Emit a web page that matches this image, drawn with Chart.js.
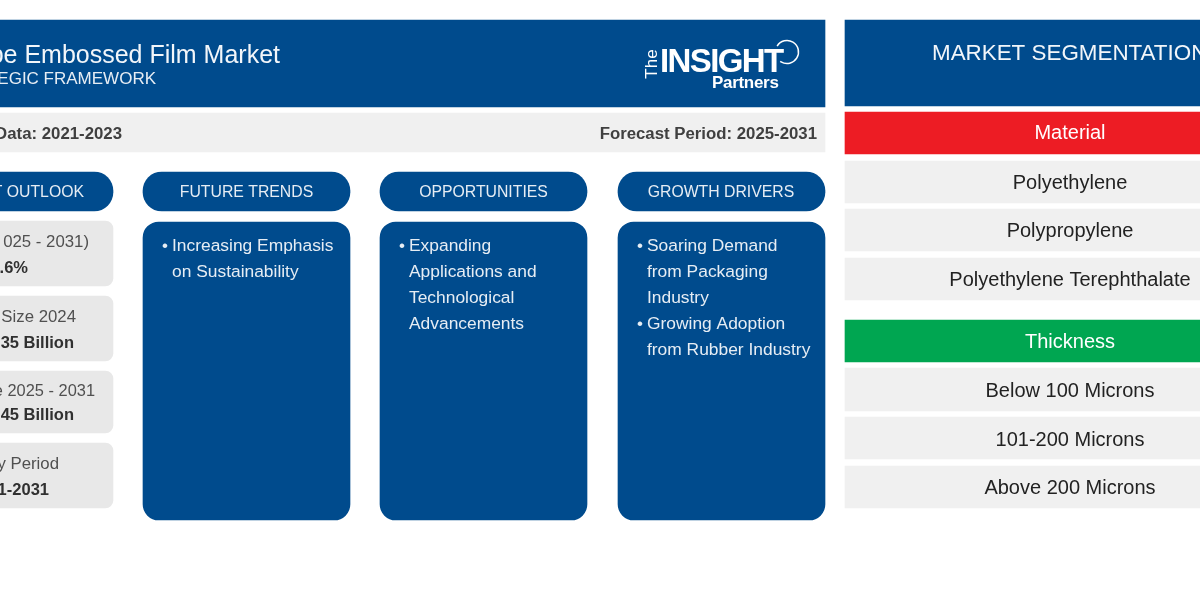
<!DOCTYPE html>
<html>
<head>
<meta charset="utf-8">
<title>Embossed Film Market</title>
<script src="https://cdn.jsdelivr.net/npm/chart.js@4"></script>
<style>
  html, body { margin: 0; padding: 0; background: #fff; overflow: hidden; }
  canvas { display: block; }
</style>
</head>
<body>
<canvas id="chart" width="1200" height="600"></canvas>
<script>
// text, as far as the reference shows it (its left edge is cropped)
const titleLines = ["be Embossed Film Market", "EGIC FRAMEWORK"];
const periodLabels = ["Data: 2021-2023", "Forecast Period: 2025-2031"];
const columnTitles = ["T OUTLOOK", "FUTURE TRENDS", "OPPORTUNITIES", "GROWTH DRIVERS"];
const outlookLabels = ["025 - 2031)", "Size 2024", "e 2025 - 2031", "y Period"];
const outlookValues = [".6%", "35 Billion", "45 Billion", "1-2031"];
const futureTrends = [["Increasing Emphasis", "on Sustainability"]];
const opportunities = [["Expanding", "Applications and", "Technological", "Advancements"]];
const growthDrivers = [["Soaring Demand", "from Packaging", "Industry"], ["Growing Adoption", "from Rubber Industry"]];
const segmentationTitle = "MARKET SEGMENTATION";
const segmentNames = ["Material", "Thickness"];
const materialItems = ["Polyethylene", "Polypropylene", "Polyethylene Terephthalate"];
const thicknessItems = ["Below 100 Microns", "101-200 Microns", "Above 200 Microns"];

const BLUE = "#004b8d";
const FONT = '"Liberation Sans", Arial, sans-serif';

// each panel is a floating bar: x range, top, bottom
function panels(color, radius, rows) {
    const top = rows[0][2], bottom = rows[0][3];
    return {
        data: rows.map(r => ({ x: [r[0], r[1]], y: (r[2] + r[3]) / 2 })),
        backgroundColor: color,
        barThickness: bottom - top,
        borderRadius: radius,
        borderSkipped: false,
        stack: "panels"
    };
}

const datasets = [
    panels(BLUE, 0, [[-20, 825, 20, 107]]),
    panels("#f0f0f0", 0, [[-20, 825, 113, 152]]),
    panels(BLUE, 19, [[-94, 113, 172, 211], [143, 350, 172, 211], [380, 587, 172, 211], [618, 825, 172, 211]]),
    panels(BLUE, 16, [[143, 350, 222, 520], [380, 587, 222, 520], [618, 825, 222, 520]]),
    panels("#e8e8e8", 8, [[-94, 113, 221, 286]]),
    panels("#e8e8e8", 8, [[-94, 113, 296, 361]]),
    panels("#e8e8e8", 8, [[-94, 113, 371, 433]]),
    panels("#e8e8e8", 8, [[-94, 113, 443, 508]]),
    panels(BLUE, 0, [[845, 1300, 20, 106]]),
    panels("#ed1c24", 0, [[845, 1300, 112, 154]]),
    panels("#00a651", 0, [[845, 1300, 320, 362]]),
    panels("#f0f0f0", 0, [[845, 1300, 161, 203], [845, 1300, 209, 251]]),
    panels("#f0f0f0", 0, [[845, 1300, 258, 300]]),
    panels("#f0f0f0", 0, [[845, 1300, 368, 411]]),
    panels("#f0f0f0", 0, [[845, 1300, 417, 459], [845, 1300, 466, 508]])
];

const pillCenters = [60, 246.5, 483.5, 721];
const cardLabelX = [89, 76, 95, 59];
const cardValueX = [28, 74, 74, 49];
const cardLabelSize = [16.8, 16.8, 16.4, 16.8];
const cardLabelY = [241, 316, 390, 463];
const cardValueY = [267, 342, 414, 489];
const materialY = [182, 230.5, 279];
const thicknessY = [390, 439, 487.5];

const textPlugin = {
    id: "panelText",
    afterDatasetsDraw(chart) {
        const { ctx, scales: { x, y } } = chart;

        function put(str, px, py, size, color, align, weight) {
            ctx.font = (weight || "normal") + " " + size + "px " + FONT;
            ctx.fillStyle = color;
            ctx.textAlign = align || "left";
            ctx.textBaseline = "middle";
            ctx.fillText(str, x.getPixelForValue(px), y.getPixelForValue(py + 1));
        }

        function bullets(items, left, startY) {
            let line = 0;
            items.forEach(lines => {
                put("•", left, startY + line * 26, 17, "#e6edf4");
                lines.forEach(l => {
                    put(l, left + 10, startY + line * 26, 17.4, "#e6edf4");
                    line++;
                });
            });
        }

        ctx.save();
        put(titleLines[0], 280, 55, 25, "#f2f6fa", "right");
        put(titleLines[1], 156, 78, 17, "#e6edf4", "right");
        put(periodLabels[0], 122, 133, 16.8, "#404040", "right", "bold");
        put(periodLabels[1], 817, 133, 16.8, "#404040", "right", "bold");

        columnTitles.forEach((t, i) => {
            put(t, i === 0 ? 84 : pillCenters[i], 192, 15.8, "#e6edf4", i === 0 ? "right" : "center");
        });

        outlookLabels.forEach((t, i) => {
            put(t, cardLabelX[i], cardLabelY[i], cardLabelSize[i], "#505050", "right");
        });
        outlookValues.forEach((t, i) => {
            put(t, cardValueX[i], cardValueY[i], 16.5, "#303030", "right", "bold");
        });

        bullets(futureTrends, 162, 245.5);
        bullets(opportunities, 399, 245.5);
        bullets(growthDrivers, 637, 245.5);

        put(segmentationTitle, 932, 52.5, 22.4, "#f2f6fa", "left");
        put(segmentNames[0], 1070, 132.5, 20, "#ffffff", "center");
        put(segmentNames[1], 1070, 341, 20, "#ffffff", "center");
        materialItems.forEach((t, i) => put(t, 1070, materialY[i], 20, "#222222", "center"));
        thicknessItems.forEach((t, i) => put(t, 1070, thicknessY[i], 20, "#222222", "center"));

        // logo
        ctx.letterSpacing = "-1.6px";
        put("INSIGHT", 660, 62, 33, "#ffffff", "left", "bold");
        ctx.letterSpacing = "-0.3px";
        put("Partners", 712, 82, 17, "#ffffff", "left", "bold");
        ctx.letterSpacing = "0px";
        ctx.save();
        ctx.translate(x.getPixelForValue(652), y.getPixelForValue(64));
        ctx.rotate(-Math.PI / 2);
        ctx.font = "normal 17px " + FONT;
        ctx.fillStyle = "#ffffff";
        ctx.textAlign = "center";
        ctx.textBaseline = "middle";
        ctx.fillText("The", 0, 0);
        ctx.restore();
        ctx.beginPath();
        ctx.arc(x.getPixelForValue(787), y.getPixelForValue(52), 11.5, -2.6, 2.2);
        ctx.strokeStyle = "#ffffff";
        ctx.lineWidth = 1.5;
        ctx.stroke();
        ctx.restore();
    }
};

new Chart(document.getElementById("chart"), {
    type: "bar",
    data: { datasets: datasets },
    plugins: [textPlugin],
    options: {
        indexAxis: "y",
        responsive: false,
        animation: false,
        devicePixelRatio: 1,
        layout: { padding: 0 },
        plugins: { legend: { display: false }, tooltip: { enabled: false } },
        scales: {
            x: { type: "linear", min: 0, max: 1200, stacked: false, display: false },
            y: { type: "linear", min: 0, max: 600, reverse: true, offset: false, display: false }
        }
    }
});
</script>
</body>
</html>
